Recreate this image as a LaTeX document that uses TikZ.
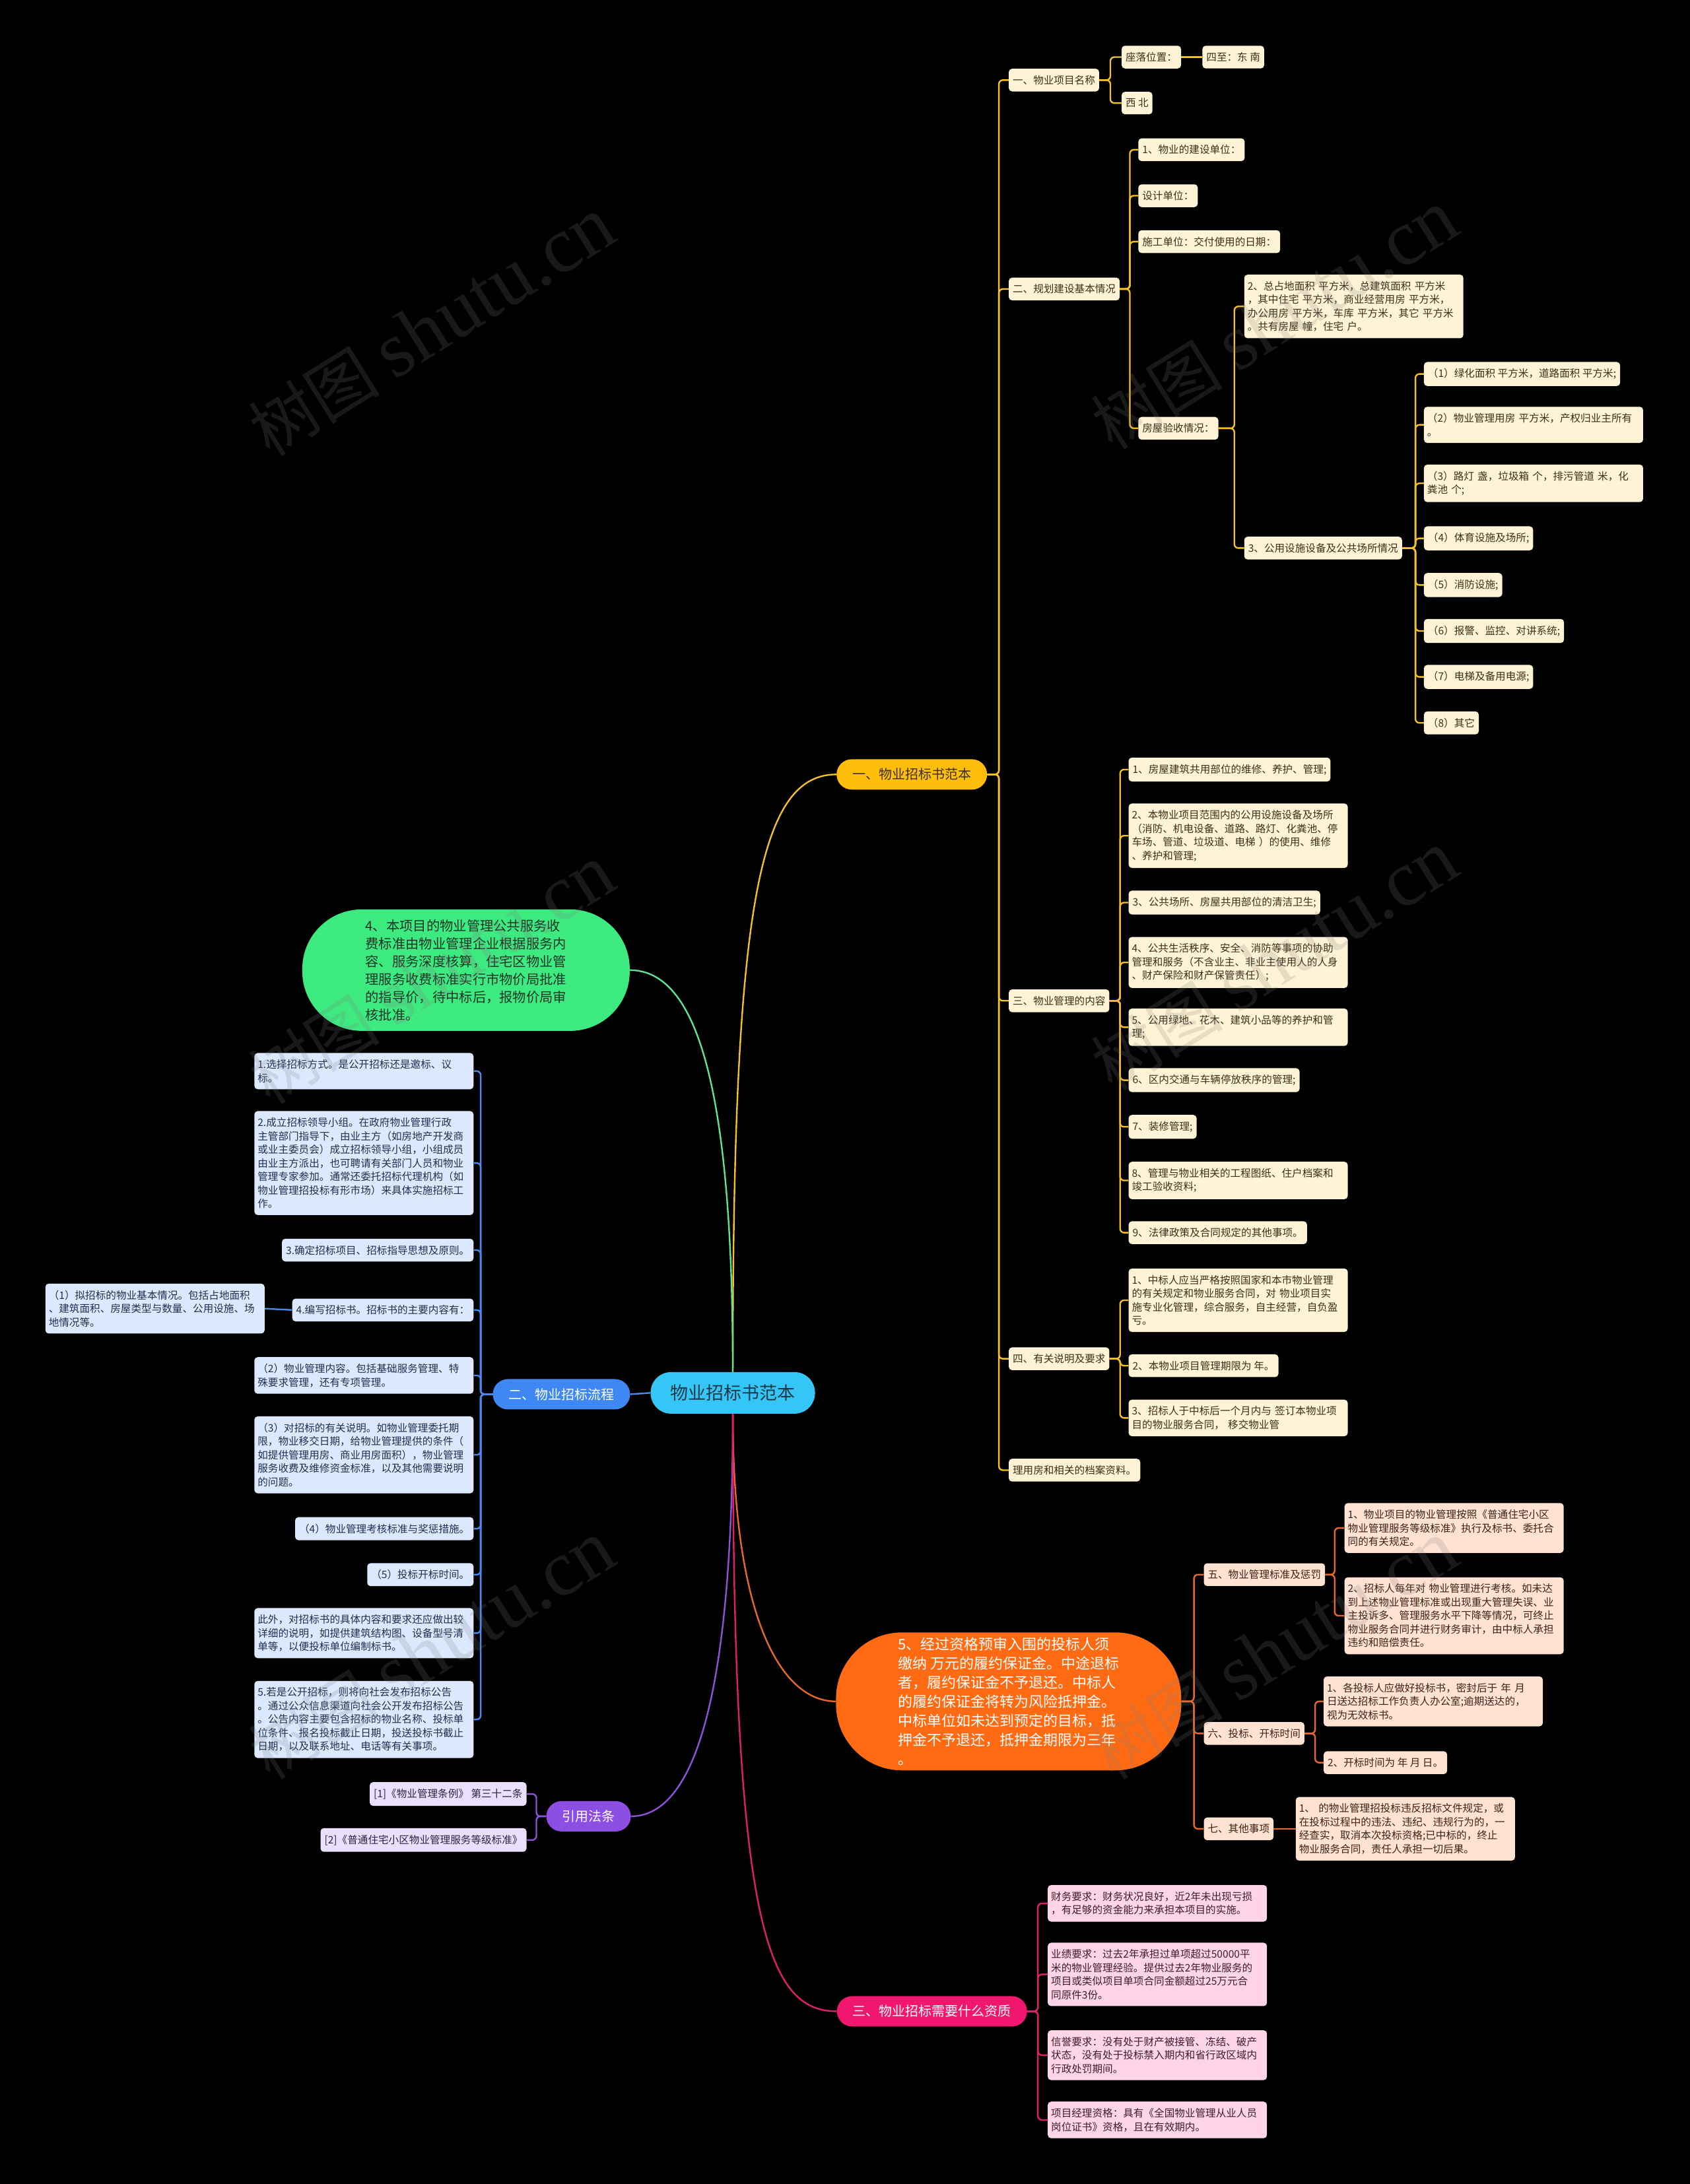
\documentclass[tikz,border=0pt]{standalone}
\usepackage{fontspec}
\setmainfont{Noto Sans CJK SC}
\newfontfamily\wmlatin{Liberation Serif}
\definecolor{bgc}{HTML}{000000}
\definecolor{rootc}{HTML}{33C6F6}
\definecolor{roottext}{HTML}{1F3846}
\definecolor{yel}{HTML}{FFBE0B}
\definecolor{yline}{HTML}{F3C02A}
\definecolor{ycream}{HTML}{FFF3D6}
\definecolor{ytext}{HTML}{3A2F1B}
\definecolor{grn}{HTML}{3DEA80}
\definecolor{gline}{HTML}{5CE394}
\definecolor{gtext}{HTML}{1E3327}
\definecolor{blu}{HTML}{3F87F2}
\definecolor{bline}{HTML}{4A88EE}
\definecolor{bfill}{HTML}{DBE8FD}
\definecolor{btext}{HTML}{22304F}
\definecolor{pur}{HTML}{8D4FE3}
\definecolor{pline}{HTML}{8C52DA}
\definecolor{pfill}{HTML}{EADFFC}
\definecolor{ptext}{HTML}{2E2340}
\definecolor{org}{HTML}{FF6A13}
\definecolor{oline}{HTML}{E8682C}
\definecolor{ofill}{HTML}{FFE2D2}
\definecolor{otext}{HTML}{3A2418}
\definecolor{pnk}{HTML}{F2176E}
\definecolor{kline}{HTML}{DF1F6C}
\definecolor{kfill}{HTML}{FFD4E7}
\definecolor{ktext}{HTML}{3B1F2B}
\tikzset{
 lk/.style={line width=2.4pt, rounded corners=6pt},
 basend/.style={font=\fontsize{15.6}{20.5}\selectfont, inner xsep=6pt, inner ysep=10pt, rounded corners=5pt, align=left},
 ynd/.style={basend, fill=ycream, text=ytext},
 bnd/.style={basend, fill=bfill, text=btext},
 pnd/.style={basend, fill=pfill, text=ptext},
 ond/.style={basend, fill=ofill, text=otext},
 knd/.style={basend, fill=kfill, text=ktext},
 wrapbox/.style={text width=322pt, inner xsep=5pt},
 lone/.style={font=\fontsize{20}{26}\selectfont, inner xsep=24pt, inner ysep=0pt, minimum height=46pt, rounded corners=23pt},
 rootst/.style={font=\fontsize{27}{30}\selectfont, fill=rootc, text=roottext, minimum width=249pt, minimum height=63pt, rounded corners=31pt, inner sep=0pt},
 gpill/.style={font=\fontsize{20.3}{27}\selectfont, fill=grn, text=gtext, minimum width=496pt, minimum height=184pt, rounded corners=90pt, align=left, inner sep=0pt},
 opill/.style={font=\fontsize{22}{29}\selectfont, fill=org, text=white, minimum width=523pt, minimum height=209pt, rounded corners=100pt, align=left, inner sep=0pt},
 wmst/.style={rotate=32, text=gray, text opacity=0.2, inner sep=0pt},
}
\newcommand\rlink[4]{\path (#3,0) coordinate (tk); \draw[lk,#1] (#2.east) -- (#2.east -| tk) |- (#4.west);}
\newcommand\llink[4]{\path (#3,0) coordinate (tk); \draw[lk,#1] (#2.west) -- (#2.west -| tk) |- (#4.east);}
\begin{document}
\begin{tikzpicture}[x=2.1104pt,y=-2.1104pt]
\useasboundingbox (0,0) rectangle (1213,1568);
\fill[bgc] (0,0) rectangle (1213,1568);

% root
\node[rootst] (root) at (526,1000) {物业招标书范本};

% ---------- yellow branch ----------
\node[lone, fill=yel, text=ytext] (y1) at (654.5,556) {一、物业招标书范本};
\node[ynd, anchor=west] (ya) at (724,57.5) {一、物业项目名称};
\node[ynd, anchor=west] (yaa) at (805,41) {座落位置：};
\node[ynd, anchor=west] (yab) at (863,41) {四至：东 南};
\node[ynd, anchor=west] (yac) at (805,74) {西 北};
\node[ynd, anchor=west] (yb) at (724,207.5) {二、规划建设基本情况};
\node[ynd, anchor=west] (yb1) at (817,107.5) {1、物业的建设单位：};
\node[ynd, anchor=west] (yb2) at (817,140.5) {设计单位：};
\node[ynd, anchor=west] (yb3) at (817,173.5) {施工单位：交付使用的日期：};
\node[ynd, anchor=west] (yb4) at (817,307.5) {房屋验收情况：};
\node[ynd, wrapbox, anchor=west] (yb41) at (893,220) {2、总占地面积 平方米，总建筑面积 平方米\\，其中住宅 平方米，商业经营用房 平方米，\\办公用房 平方米，车库 平方米，其它 平方米\\。共有房屋 幢，住宅 户。};
\node[ynd, anchor=west] (yb42) at (893,393.5) {3、公用设施设备及公共场所情况};
\node[ynd, anchor=west] (c1) at (1022,268.5) {（1）绿化面积 平方米，道路面积 平方米;};
\node[ynd, wrapbox, anchor=west] (c2) at (1022,305) {（2）物业管理用房 平方米，产权归业主所有\\。};
\node[ynd, wrapbox, anchor=west] (c3) at (1022,347) {（3）路灯 盏，垃圾箱 个，排污管道 米，化\\粪池 个;};
\node[ynd, anchor=west] (c4) at (1022,386.5) {（4）体育设施及场所;};
\node[ynd, anchor=west] (c5) at (1022,420) {（5）消防设施;};
\node[ynd, anchor=west] (c6) at (1022,453) {（6）报警、监控、对讲系统;};
\node[ynd, anchor=west] (c7) at (1022,486) {（7）电梯及备用电源;};
\node[ynd, anchor=west] (c8) at (1022,519) {（8）其它};
\node[ynd, anchor=west] (yc) at (724,718.5) {三、物业管理的内容};
\node[ynd, anchor=west] (yc1) at (810,552.5) {1、房屋建筑共用部位的维修、养护、管理;};
\node[ynd, wrapbox, anchor=west] (yc2) at (810,600) {2、本物业项目范围内的公用设施设备及场所\\（消防、机电设备、道路、路灯、化粪池、停\\车场、管道、垃圾道、电梯 ）的使用、维修\\、养护和管理;};
\node[ynd, anchor=west] (yc3) at (810,648) {3、公共场所、房屋共用部位的清洁卫生;};
\node[ynd, wrapbox, anchor=west] (yc4) at (810,691) {4、公共生活秩序、安全、消防等事项的协助\\管理和服务（不含业主、非业主使用人的人身\\、财产保险和财产保管责任）;};
\node[ynd, wrapbox, anchor=west] (yc5) at (810,737.5) {5、公用绿地、花木、建筑小品等的养护和管\\理;};
\node[ynd, anchor=west] (yc6) at (810,775.5) {6、区内交通与车辆停放秩序的管理;};
\node[ynd, anchor=west] (yc7) at (810,809) {7、装修管理;};
\node[ynd, wrapbox, anchor=west] (yc8) at (810,847.5) {8、管理与物业相关的工程图纸、住户档案和\\竣工验收资料;};
\node[ynd, anchor=west] (yc9) at (810,885) {9、法律政策及合同规定的其他事项。};
\node[ynd, anchor=west] (yd) at (724,975.5) {四、有关说明及要求};
\node[ynd, wrapbox, anchor=west] (yd1) at (810,933.5) {1、中标人应当严格按照国家和本市物业管理\\的有关规定和物业服务合同，对 物业项目实\\施专业化管理，综合服务，自主经营，自负盈\\亏。};
\node[ynd, anchor=west] (yd2) at (810,980.5) {2、本物业项目管理期限为 年。};
\node[ynd, wrapbox, anchor=west] (yd3) at (810,1018) {3、招标人于中标后一个月内与 签订本物业项\\目的物业服务合同， 移交物业管};
\node[ynd, anchor=west] (ye) at (724,1055.5) {理用房和相关的档案资料。};

\foreach \c in {ya,yb,yc,yd,ye} {\rlink{yline}{y1}{717}{\c}}
\foreach \c in {yaa,yac} {\rlink{yline}{ya}{797}{\c}}
\draw[lk,yline] (yaa.east) -- (yab.west);
\foreach \c in {yb1,yb2,yb3,yb4} {\rlink{yline}{yb}{811}{\c}}
\foreach \c in {yb41,yb42} {\rlink{yline}{yb4}{886}{\c}}
\foreach \c in {c1,c2,c3,c4,c5,c6,c7,c8} {\rlink{yline}{yb42}{1016}{\c}}
\foreach \c in {yc1,yc2,yc3,yc4,yc5,yc6,yc7,yc8,yc9} {\rlink{yline}{yc}{804}{\c}}
\foreach \c in {yd1,yd2,yd3} {\rlink{yline}{yd}{804}{\c}}

% ---------- green ----------
\node[gpill] (g1) at (334.5,696.5) {4、本项目的物业管理公共服务收\\费标准由物业管理企业根据服务内\\容、服务深度核算，住宅区物业管\\理服务收费标准实行市物价局批准\\的指导价，待中标后，报物价局审\\核批准。};

% ---------- blue ----------
\node[lone, fill=blu, text=white] (b1) at (403,1001) {二、物业招标流程};
\node[bnd, wrapbox, anchor=east] (ba) at (340,769) {1.选择招标方式。是公开招标还是邀标、议\\标。};
\node[bnd, wrapbox, anchor=east] (bb) at (340,835) {2.成立招标领导小组。在政府物业管理行政\\主管部门指导下，由业主方（如房地产开发商\\或业主委员会）成立招标领导小组，小组成员\\由业主方派出，也可聘请有关部门人员和物业\\管理专家参加。通常还委托招标代理机构（如\\物业管理招投标有形市场）来具体实施招标工\\作。};
\node[bnd, anchor=east] (bc) at (340,897.5) {3.确定招标项目、招标指导思想及原则。};
\node[bnd, anchor=east] (bd) at (340,940.5) {4.编写招标书。招标书的主要内容有：};
\node[bnd, wrapbox, anchor=east] (bd1) at (190,939.5) {（1）拟招标的物业基本情况。包括占地面积\\、建筑面积、房屋类型与数量、公用设施、场\\地情况等。};
\node[bnd, wrapbox, anchor=east] (be) at (340,987.5) {（2）物业管理内容。包括基础服务管理、特\\殊要求管理，还有专项管理。};
\node[bnd, wrapbox, anchor=east] (bf) at (340,1044.5) {（3）对招标的有关说明。如物业管理委托期\\限，物业移交日期，给物业管理提供的条件（\\如提供管理用房、商业用房面积），物业管理\\服务收费及维修资金标准，以及其他需要说明\\的问题。};
\node[bnd, anchor=east] (bg) at (340,1097.5) {（4）物业管理考核标准与奖惩措施。};
\node[bnd, anchor=east] (bh) at (340,1130.5) {（5）投标开标时间。};
\node[bnd, wrapbox, anchor=east] (bi) at (340,1172.5) {此外，对招标书的具体内容和要求还应做出较\\详细的说明，如提供建筑结构图、设备型号清\\单等，以便投标单位编制标书。};
\node[bnd, wrapbox, anchor=east] (bj) at (340,1234.5) {5.若是公开招标，则将向社会发布招标公告\\。通过公众信息渠道向社会公开发布招标公告\\。公告内容主要包含招标的物业名称、投标单\\位条件、报名投标截止日期，投送投标书截止\\日期，以及联系地址、电话等有关事项。};
\foreach \c in {ba,bb,bc,bd,be,bf,bg,bh,bi,bj} {\llink{bline}{b1}{345}{\c}}
\draw[lk,bline] (bd.west) -- (bd1.east);

% ---------- purple ----------
\node[lone, fill=pur, text=white] (p1) at (422.5,1304) {引用法条};
\node[pnd, anchor=east] (pa) at (378,1288) {[1]《物业管理条例》 第三十二条};
\node[pnd, anchor=east] (pb) at (378,1321) {[2]《普通住宅小区物业管理服务等级标准》};
\foreach \c in {pa,pb} {\llink{pline}{p1}{385}{\c}}

% ---------- orange ----------
\node[opill] (o1) at (724,1221.5) {5、经过资格预审入围的投标人须\\缴纳 万元的履约保证金。中途退标\\者，履约保证金不予退还。中标人\\的履约保证金将转为风险抵押金。\\中标单位如未达到预定的目标，抵\\押金不予退还，抵押金期限为三年\\。};
\node[ond, anchor=west] (oa) at (864,1130.5) {五、物业管理标准及惩罚};
\node[ond, wrapbox, anchor=west] (oa1) at (965,1097) {1、物业项目的物业管理按照《普通住宅小区\\物业管理服务等级标准》执行及标书、委托合\\同的有关规定。};
\node[ond, wrapbox, anchor=west] (oa2) at (965,1160) {2、招标人每年对 物业管理进行考核。如未达\\到上述物业管理标准或出现重大管理失误、业\\主投诉多、管理服务水平下降等情况，可终止\\物业服务合同并进行财务审计，由中标人承担\\违约和赔偿责任。};
\node[ond, anchor=west] (ob) at (864,1244.5) {六、投标、开标时间};
\node[ond, wrapbox, anchor=west] (ob1) at (950,1221.5) {1、各投标人应做好投标书，密封后于 年 月\\日送达招标工作负责人办公室;逾期送达的，\\视为无效标书。};
\node[ond, anchor=west] (ob2) at (950,1265.5) {2、开标时间为 年 月 日。};
\node[ond, anchor=west] (oc) at (864,1313) {七、其他事项};
\node[ond, wrapbox, anchor=west] (oc1) at (930,1313) {1、 的物业管理招投标违反招标文件规定，或\\在投标过程中的违法、违纪、违规行为的，一\\经查实，取消本次投标资格;已中标的，终止\\物业服务合同，责任人承担一切后果。};
\foreach \c in {oa,ob,oc} {\rlink{oline}{o1}{857}{\c}}
\foreach \c in {oa1,oa2} {\rlink{oline}{oa}{958}{\c}}
\foreach \c in {ob1,ob2} {\rlink{oline}{ob}{944}{\c}}
\draw[lk,oline] (oc.east) -- (oc1.west);

% ---------- pink ----------
\node[lone, fill=pnk, text=white] (k1) at (669,1444) {三、物业招标需要什么资质};
\node[knd, wrapbox, anchor=west] (ka) at (752,1366.5) {财务要求：财务状况良好，近2年未出现亏损\\，有足够的资金能力来承担本项目的实施。};
\node[knd, wrapbox, anchor=west] (kb) at (752,1417.5) {业绩要求：过去2年承担过单项超过50000平\\米的物业管理经验。提供过去2年物业服务的\\项目或类似项目单项合同金额超过25万元合\\同原件3份。};
\node[knd, wrapbox, anchor=west] (kc) at (752,1475.5) {信誉要求：没有处于财产被接管、冻结、破产\\状态，没有处于投标禁入期内和省行政区域内\\行政处罚期间。};
\node[knd, wrapbox, anchor=west] (kd) at (752,1522) {项目经理资格：具有《全国物业管理从业人员\\岗位证书》资格，且在有效期内。};
\foreach \c in {ka,kb,kc,kd} {\rlink{kline}{k1}{745}{\c}}

% ---------- root connectors ----------
\draw[lk,yline] (root.north) .. controls (526,650) and (545,556) .. (y1.west);
\draw[lk,gline] (root.north) .. controls (526,780) and (500,696.5) .. (g1.east);
\draw[lk,bline] (root.west) -- (b1.east);
\draw[lk,pline] (root.south) .. controls (526,1230) and (495,1304) .. (p1.east);
\draw[lk,oline] (root.south) .. controls (526,1160) and (560,1221.5) .. (o1.west);
\draw[lk,kline] (root.south) .. controls (526,1380) and (550,1444) .. (k1.west);

% ---------- watermark ----------
\foreach \wx/\wy [count=\i] in {310/235,915/230,310/700,915/690,310/1185,915/1185}
  \node[wmst] (wm\i) at (\wx,\wy) {\fontsize{100}{100}\selectfont 树图 {\wmlatin\fontsize{120}{120}\selectfont shutu.cn}};
\end{tikzpicture}
\end{document}
